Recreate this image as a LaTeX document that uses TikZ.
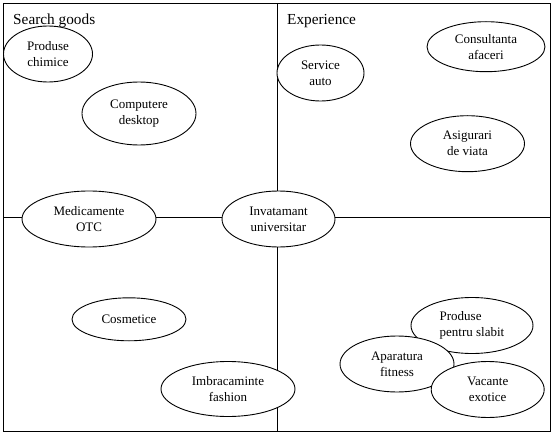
\documentclass[tikz,border=0pt]{standalone}
\usepackage{fontspec}
\setmainfont{Liberation Serif}
\usetikzlibrary{shapes.geometric}
\tikzset{
  grid/.style={draw=black, line width=0.9pt},
  oval/.style={ellipse, draw=black, fill=white, line width=0.9pt, inner sep=0pt,
    align=center, font=\fontsize{13}{16}\selectfont},
  quad/.style={anchor=base west, inner sep=0pt, font=\fontsize{15.3}{17}\selectfont}
}
\begin{document}
\begin{tikzpicture}[x=1pt,y=-1pt]
\useasboundingbox (0,0) rectangle (554,433);
\coordinate (tl) at (3.5,3.5);
\coordinate (br) at (550.5,431);
\coordinate (vt) at (277,3.5);
\coordinate (vb) at (277,431);
\coordinate (hl) at (3.5,217);
\coordinate (hr) at (550.5,217);
\draw[grid] (tl) rectangle (br);
\draw[grid] (vt) -- (vb);
\draw[grid] (hl) -- (hr);

\node[quad] (sg) at (13,25) {Search goods};
\node[quad] (ex) at (287,25) {Experience};

\node[oval, minimum width=89pt, minimum height=56pt] (pc) at (48,54) {Produse\\chimice};
\node[oval, minimum width=114pt, minimum height=63pt] (cd) at (139,113.5) {Computere\\desktop};
\node[oval, minimum width=134pt, minimum height=56pt] (mo) at (89,219) {Medicamente\\OTC};
\node[oval, minimum width=113pt, minimum height=56pt] (iu) at (278.5,219) {Invatamant\\universitar};
\node[oval, minimum width=87pt, minimum height=56pt] (sa) at (320.5,73) {Service\\auto};
\node[oval, minimum width=118pt, minimum height=50pt] (ca) at (486,46.7) {Consultanta\\afaceri};
\node[oval, minimum width=114pt, minimum height=56pt] (av) at (467.5,143.7) {Asigurari\\de viata};
\node[oval, minimum width=114pt, minimum height=43pt] (co) at (129,319.3) {Cosmetice};
\node[oval, minimum width=134pt, minimum height=55pt] (if) at (228,389) {Imbracaminte\\fashion};
\node[oval, align=left, minimum width=122pt, minimum height=56pt] (ps) at (472,325.5) {Produse\\pentru slabit};
\node[oval, minimum width=114pt, minimum height=56pt] (af) at (397,364) {Aparatura\\fitness};
\node[oval, minimum width=113pt, minimum height=56pt] (ve) at (487.7,389.5) {Vacante\\exotice};
\end{tikzpicture}
\end{document}
